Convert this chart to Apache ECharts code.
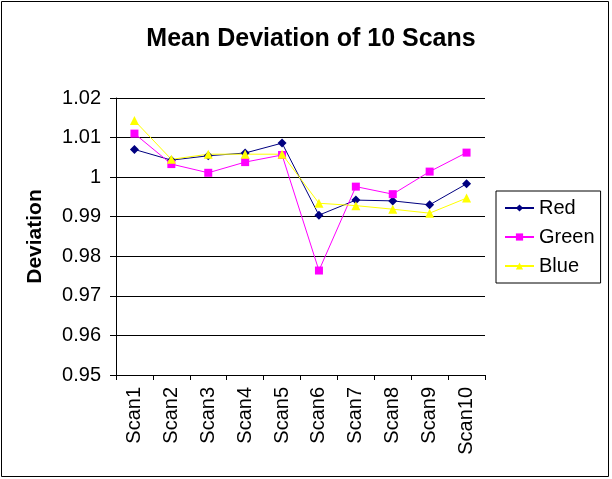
<!DOCTYPE html>
<html>
<head>
<meta charset="utf-8">
<script src="https://cdn.jsdelivr.net/npm/echarts@6/dist/echarts.min.js"></script>
<style>
html,body{margin:0;padding:0;background:#fff;}
#chart{width:612px;height:479px;}
</style>
</head>
<body>
<div id="chart"></div>
<script>
const categories = ['Scan1','Scan2','Scan3','Scan4','Scan5','Scan6','Scan7','Scan8','Scan9','Scan10'];
const redValues   = [1.0070, 1.0043, 1.0054, 1.0061, 1.0086, 0.9904, 0.9942, 0.9940, 0.9930, 0.9983];
const greenValues = [1.0110, 1.0033, 1.0011, 1.0038, 1.0056, 0.9764, 0.9976, 0.9957, 1.0014, 1.0062];
const blueValues  = [1.0143, 1.0045, 1.0058, 1.0058, 1.0058, 0.9934, 0.9928, 0.9919, 0.9909, 0.9947];
const yTicks = [0.95, 0.96, 0.97, 0.98, 0.99, 1, 1.01, 1.02];

const FONT = 'Liberation Sans, Arial, sans-serif';
const chart = echarts.init(document.getElementById('chart'), null, {renderer:'canvas'});

function mkSeries(name, data, color, symbol, size) {
  return {
    name: name, type: 'line', data: data,
    symbol: symbol, symbolSize: size,
    lineStyle: {color: color, width: 1},
    itemStyle: {color: color},
    animation: false
  };
}

chart.setOption({
  animation: false,
  backgroundColor: '#fff',
  title: {
    text: 'Mean Deviation of 10 Scans',
    left: 306, textAlign: 'center', top: 22,
    textStyle: {fontFamily: FONT, fontSize: 25, fontWeight: 'bold', color: '#000'}
  },
  graphic: [{
    type: 'rect', shape: {x: 1.5, y: 1.5, width: 607, height: 475},
    style: {fill: null, stroke: '#000', lineWidth: 1}, silent: true, z: -1
  }],
  legend: {
    orient: 'vertical', left: 496, top: 191,
    borderColor: '#000', borderWidth: 1,
    padding: [7, 6, 7, 8],
    itemGap: 9, itemWidth: 29, itemHeight: 9,
    textStyle: {fontFamily: FONT, fontSize: 20, color: '#000'},
    data: ['Red', 'Green', 'Blue']
  },
  grid: {left: 116, right: 127, top: 98, bottom: 104, containLabel: false},
  xAxis: {
    type: 'category', data: categories, boundaryGap: true,
    axisLine: {lineStyle: {color: '#000', width: 1}},
    axisTick: {show: true, length: 5, lineStyle: {color: '#000'}, alignWithLabel: false},
    axisLabel: {rotate: 90, fontFamily: FONT, fontSize: 20, color: '#000', margin: 12, interval: 0}
  },
  yAxis: {
    type: 'value', min: 0.95, max: 1.02, interval: 0.01,
    name: 'Deviation', nameLocation: 'middle', nameRotate: 90, nameGap: 70,
    nameTextStyle: {fontFamily: FONT, fontSize: 21, fontWeight: 'bold', color: '#000'},
    axisLine: {show: true, lineStyle: {color: '#000', width: 1}},
    axisTick: {show: true, length: 6, lineStyle: {color: '#000'}},
    splitLine: {show: true, lineStyle: {color: '#000', width: 1}},
    axisLabel: {
      fontFamily: FONT, fontSize: 20, color: '#000', margin: 15,
      formatter: function (v) {
        const r = Math.round(v * 100) / 100;
        const m = yTicks.find(t => Math.abs(t - r) < 1e-9);
        return String(m !== undefined ? m : r);
      }
    }
  },
  series: [
    mkSeries('Red', redValues, '#000080', 'diamond', 9),
    mkSeries('Green', greenValues, '#FF00FF', 'rect', 8),
    mkSeries('Blue', blueValues, '#FFFF00', 'triangle', 9)
  ]
});
</script>
</body>
</html>
